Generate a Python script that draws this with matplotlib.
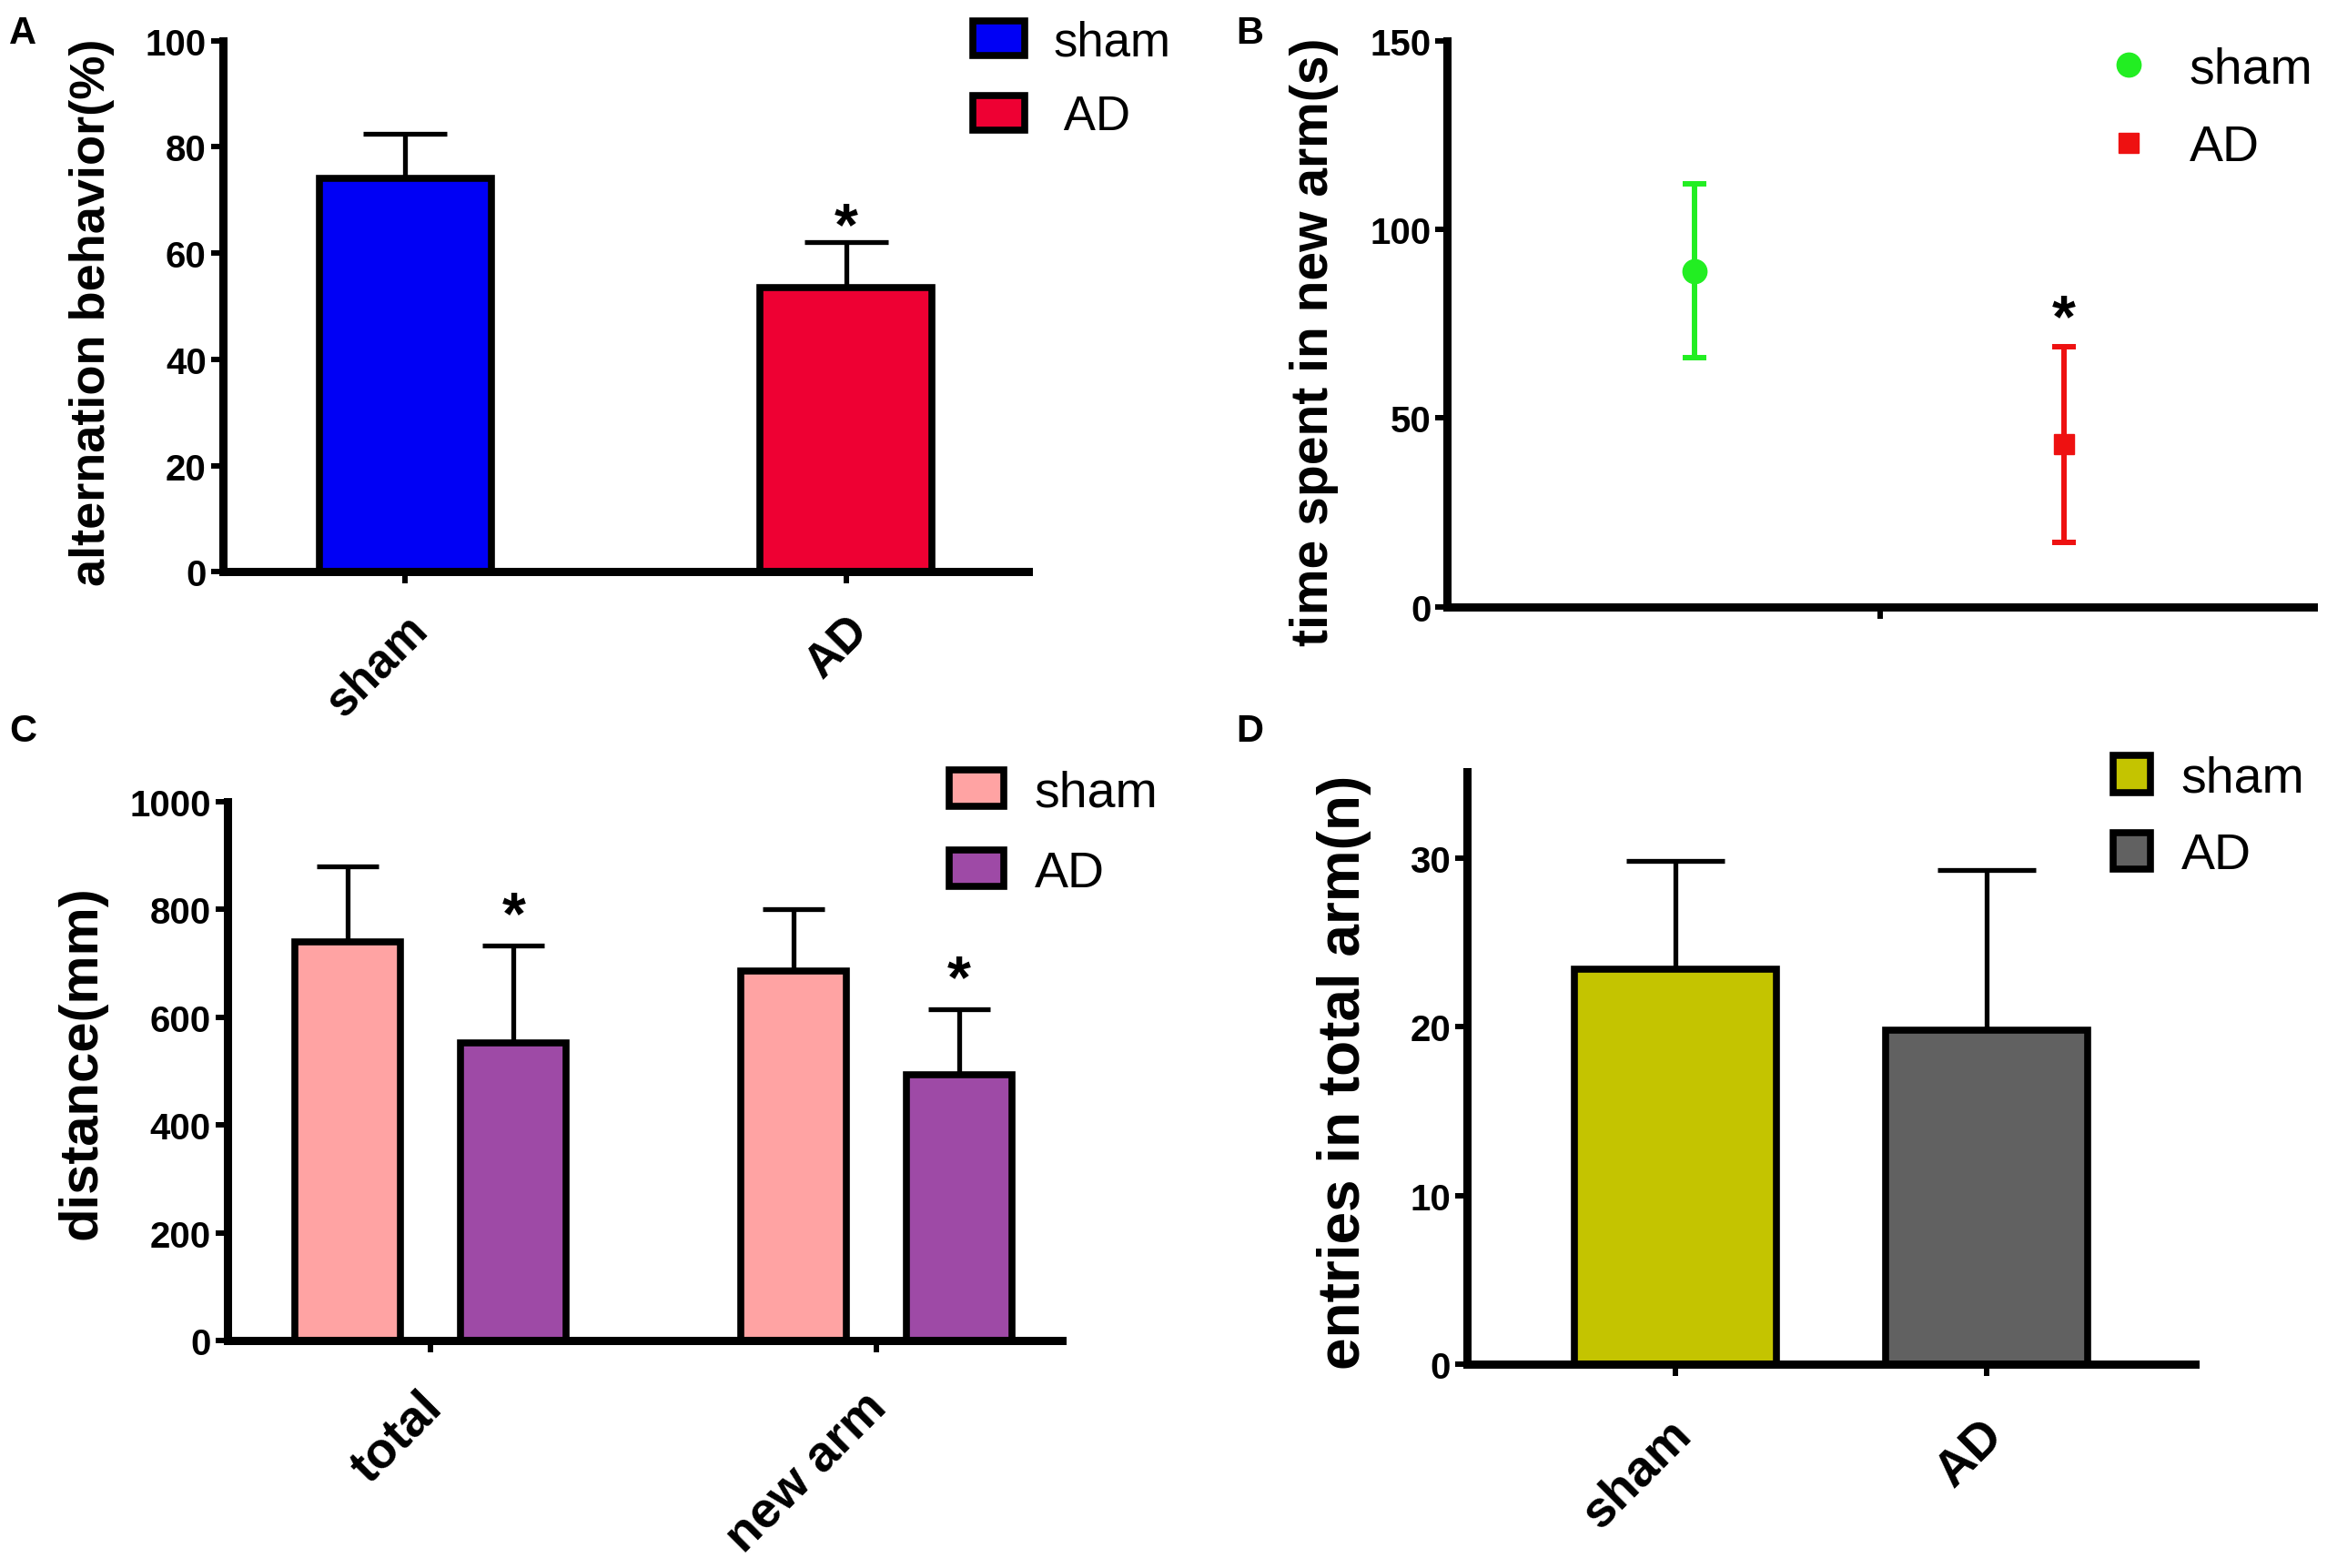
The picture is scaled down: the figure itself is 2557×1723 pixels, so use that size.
import numpy as np
import matplotlib
matplotlib.use('Agg')
import matplotlib.pyplot as plt
from matplotlib.transforms import ScaledTranslation

plt.rcParams['font.family'] = ['Liberation Sans', 'DejaVu Sans']
plt.rcParams['font.weight'] = 'bold'

# panel A: alternation behavior
a_groups = ['sham', 'AD']
a_mean = [74, 53.5]
a_err = [8.5, 8.5]
a_colors = ['#0000F5', '#EE0033']

# panel B: time spent in new arm
b_groups = ['sham', 'AD']
b_mean = [89, 43]
b_err = [23, 26]
b_colors = ['#22EE22', '#EE1111']

# panel C: distance
c_cats = ['total', 'new arm']
c_sham = [740, 685]
c_sham_err = [140, 115]
c_ad = [553, 493]
c_ad_err = [180, 122]
c_colors = ['#FFA3A3', '#9E4AA6']

# panel D: entries in total arm
d_groups = ['sham', 'AD']
d_mean = [23.4, 19.8]
d_err = [6.4, 9.5]
d_colors = ['#C4C400', '#616161']

SPINE = 6.5
EDGE = 5.5
ELW = 3.8

fig = plt.figure(figsize=(25.57, 17.24), dpi=100)


def style_axes(ax, ytick_size=29, xtick_size=35):
    for s in ['top', 'right']:
        ax.spines[s].set_visible(False)
    for s in ['left', 'bottom']:
        ax.spines[s].set_linewidth(SPINE)
    ax.tick_params(direction='out', length=9.5, width=4.3, labelsize=ytick_size)
    ax.tick_params(axis='x', labelsize=xtick_size, pad=10)


def shift_xlabels(ax, dx, dy):
    # nudge rotated category labels (points)
    for lab in ax.get_xticklabels():
        lab.set_transform(lab.get_transform() + ScaledTranslation(dx / 72, dy / 72, fig.dpi_scale_trans))


def star(ax, x, y, dy=0):
    ax.annotate('*', (x, y), xytext=(0, dy), textcoords='offset points',
                ha='center', va='bottom', fontsize=48, fontweight='bold')


def patch_legend(ax, colors, labels, anchor, fs, hl, hh, spacing):
    handles = [plt.Rectangle((0, 0), 1, 1, facecolor=c, edgecolor='black', linewidth=EDGE)
               for c in colors]
    leg = ax.legend(handles, labels, loc='upper left', bbox_to_anchor=anchor,
                    bbox_transform=fig.transFigure, frameon=False, borderpad=0,
                    borderaxespad=0, handlelength=hl, handleheight=hh,
                    handletextpad=0.6, labelspacing=spacing,
                    prop={'size': fs, 'weight': 'normal'})
    return leg


# ---------------- A ----------------
axA = fig.add_axes([0.0957, 0.635, 0.3463, 0.3385])
xa = np.arange(len(a_groups))
axA.errorbar(xa, a_mean, yerr=[[0, 0], a_err], fmt='none', ecolor='black',
             elinewidth=ELW, capsize=33, capthick=ELW, zorder=1)
axA.bar(xa, a_mean, width=0.39, color=a_colors, edgecolor='black', linewidth=EDGE, zorder=2)
axA.set_xlim(-0.414, 1.414)
axA.set_ylim(0, 100)
axA.set_yticks([0, 20, 40, 60, 80, 100])
axA.set_xticks(xa)
axA.set_xticklabels(a_groups, rotation=45, ha='right', rotation_mode='anchor')
style_axes(axA, 29, 37)
shift_xlabels(axA, 0, -8)
axA.set_ylabel('alternation behavior(%)', fontsize=39, fontweight='bold', va='center')
axA.yaxis.set_label_coords(-0.162, 0.49)
star(axA, 1, a_mean[1] + a_err[1], dy=-11)
patch_legend(axA, a_colors, ['sham', ' AD'], (0.418, 0.987), 38, 1.08, 0.74, 0.6)

# ---------------- B ----------------
axB = fig.add_axes([0.622, 0.6127, 0.372, 0.3608])
xb = [0.286, 0.712]
for i in range(2):
    axB.errorbar(xb[i], b_mean[i], yerr=b_err[i], fmt='none', ecolor=b_colors[i],
                 elinewidth=4.3, capsize=9.5, capthick=4.3)
axB.plot(xb[0], b_mean[0], 'o', color=b_colors[0], markersize=19, label='sham')
axB.plot(xb[1], b_mean[1], 's', color=b_colors[1], markersize=16, label='AD')
axB.set_xlim(0, 1)
axB.set_ylim(0, 150)
axB.set_yticks([0, 50, 100, 150])
axB.set_xticks([0.5])
axB.set_xticklabels([''])
style_axes(axB, 29, 35)
axB.set_ylabel('time spent in new arm(s)', fontsize=41, fontweight='bold', va='center')
axB.yaxis.set_label_coords(-0.154, 0.47)
star(axB, xb[1], b_mean[1] + b_err[1], dy=-2)
axB.legend(loc='upper left', bbox_to_anchor=(0.906, 0.970), bbox_transform=fig.transFigure,
           frameon=False, borderpad=0, borderaxespad=0, handlelength=0.8,
           handletextpad=0.8, labelspacing=0.6, markerscale=1.0,
           prop={'size': 40, 'weight': 'normal'})

# ---------------- C ----------------
axC = fig.add_axes([0.0976, 0.1449, 0.3587, 0.3437])
xc = np.arange(len(c_cats))
off = 0.186
bw = 0.237
axC.errorbar(xc - off, c_sham, yerr=[[0, 0], c_sham_err], fmt='none', ecolor='black',
             elinewidth=ELW, capsize=24.5, capthick=ELW, zorder=1)
axC.errorbar(xc + off, c_ad, yerr=[[0, 0], c_ad_err], fmt='none', ecolor='black',
             elinewidth=ELW, capsize=24.5, capthick=ELW, zorder=1)
axC.bar(xc - off, c_sham, width=bw, color=c_colors[0], edgecolor='black', linewidth=EDGE, zorder=2)
axC.bar(xc + off, c_ad, width=bw, color=c_colors[1], edgecolor='black', linewidth=EDGE, zorder=2)
axC.set_xlim(-0.457, 1.417)
axC.set_ylim(0, 1000)
axC.set_yticks([0, 200, 400, 600, 800, 1000])
axC.set_xticks(xc)
axC.set_xticklabels(c_cats, rotation=45, ha='right', rotation_mode='anchor')
style_axes(axC, 29, 40)
shift_xlabels(axC, -10, -14)
axC.set_ylabel('distance(mm)', fontsize=43, fontweight='bold', va='center')
axC.yaxis.set_label_coords(-0.174, 0.518)
for i in range(2):
    star(axC, xc[i] + off, c_ad[i] + c_ad_err[i])
patch_legend(axC, c_colors, ['sham', 'AD'], (0.408, 0.509), 40, 1.08, 0.74, 0.65)

# ---------------- D ----------------
axD = fig.add_axes([0.6305, 0.1297, 0.3127, 0.3779])
xd = np.arange(len(d_groups))
axD.errorbar(xd, d_mean, yerr=[[0, 0], d_err], fmt='none', ecolor='black',
             elinewidth=ELW, capsize=39, capthick=ELW, zorder=1)
axD.bar(xd, d_mean, width=0.648, color=d_colors, edgecolor='black', linewidth=EDGE, zorder=2)
axD.set_xlim(-0.667, 1.667)
axD.set_ylim(0, 35.1)
axD.set_yticks([0, 10, 20, 30])
axD.set_xticks(xd)
axD.set_xticklabels(d_groups, rotation=45, ha='right', rotation_mode='anchor')
style_axes(axD, 29, 40)
shift_xlabels(axD, -6, -17)
axD.set_ylabel('entries in total arm(n)', fontsize=46, fontweight='bold', va='center')
axD.yaxis.set_label_coords(-0.169, 0.494)
patch_legend(axD, d_colors, ['sham', 'AD'], (0.908, 0.518), 40, 0.75, 0.74, 0.58)

# panel letters
for letter, (x, y) in zip('ABCD', [(0.004, 0.99), (0.531, 0.99), (0.004, 0.545), (0.531, 0.545)]):
    fig.text(x, y, letter, fontsize=30, fontweight='bold', va='top', ha='left')

fig.savefig('out.png', dpi=100)
